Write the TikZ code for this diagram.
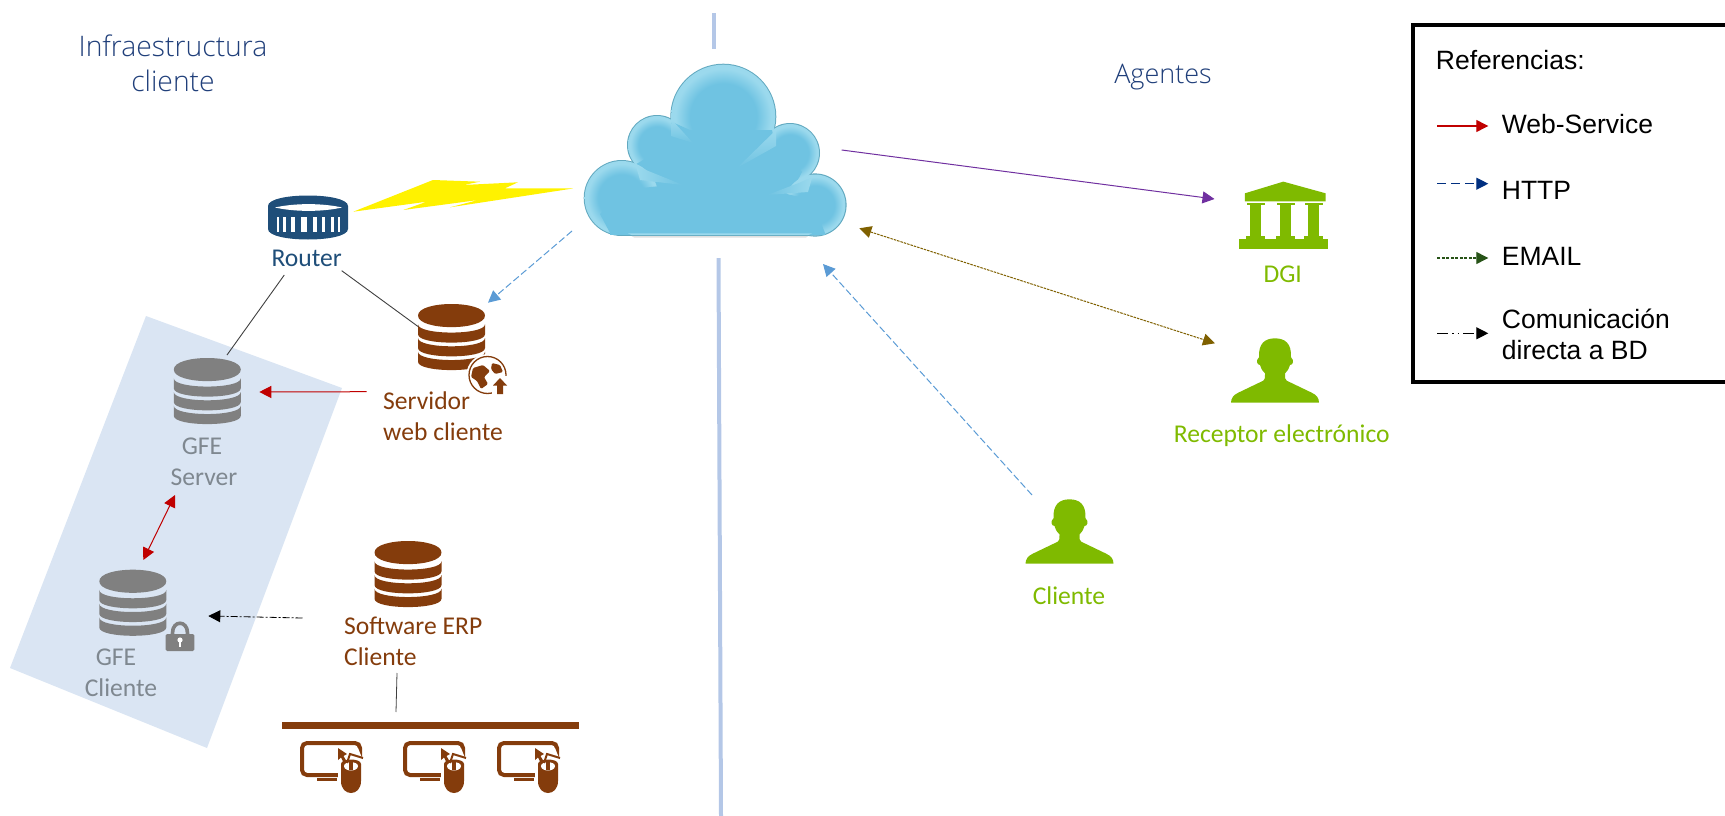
\documentclass[tikz,border=0pt]{standalone}
\usepackage{fontspec}
\setmainfont{Carlito}
\newfontfamily\headfont{Open Sans Light}
\newfontfamily\legfont{Liberation Sans}
\usetikzlibrary{arrows.meta}
\definecolor{brownc}{HTML}{843C0C}
\definecolor{greyc}{HTML}{808080}
\definecolor{greytxt}{HTML}{7F8890}
\definecolor{greenc}{HTML}{7FBA00}
\definecolor{navyc}{HTML}{1F4E79}
\definecolor{headc}{HTML}{203F7A}
\definecolor{paneC}{HTML}{DAE5F3}
\definecolor{vlineC}{HTML}{B4C7E7}
\definecolor{cloudbase}{HTML}{6FC3E2}
\definecolor{cloudhi}{HTML}{9BD9ED}
\definecolor{cloudedge}{HTML}{62A9C0}
\definecolor{httpC}{HTML}{5B9BD5}
\definecolor{wsC}{HTML}{C00000}
\definecolor{purpC}{HTML}{7030A0}
\definecolor{ambC}{HTML}{7F6000}
\definecolor{navylg}{HTML}{002F80}
\definecolor{greenlg}{HTML}{275317}
\pgfdeclareradialshading{lobeshade}{\pgfpoint{0bp}{0bp}}{%
  color(0bp)=(cloudbase); color(16bp)=(cloudbase); color(23bp)=(cloudhi); color(25bp)=(cloudhi); color(50bp)=(cloudhi)}
\tikzset{
  lab/.style={inner sep=0pt,font=\fontsize{25.6}{31}\selectfont,align=center},
  labb/.style={lab,text=brownc,align=left},
  labg/.style={lab,text=greenc},
  labgr/.style={lab,text=greytxt},
  head/.style={inner sep=0pt,text=headc,align=center},
  leg/.style={inner sep=0pt,anchor=west,align=left,font=\legfont\fontsize{26.5}{31}\selectfont},
  tip/.style={-{Triangle[length=12pt,width=12pt]}},
  twotip/.style={{Triangle[length=12pt,width=12pt]}-{Triangle[length=12pt,width=12pt]}},
  wire/.style={draw=black!75,line width=0.9pt},
}
% database icon: centre, half-width, colour
\newcommand\dbicon[3]{%
 \begin{scope}[shift={(#1)},x=#2pt,y=-#2pt]
  \fill[#3] (-1,-.64) .. controls (-1,-1.10) and (1,-1.10) .. (1,-.64) .. controls (1,-.18) and (-1,-.18) .. cycle;
  \foreach \yy in {-.38,.03,.44}{
   \fill[#3] (-1,\yy) .. controls (-1,\yy+.33) and (1,\yy+.33) .. (1,\yy) -- (1,\yy+.30) .. controls (1,\yy+.63) and (-1,\yy+.63) .. (-1,\yy+.30) -- cycle;}
 \end{scope}}
\newcommand\personicon[1]{%
 \begin{scope}[shift={(#1)},x=.3333pt,y=-.3333pt]
  \fill[greenc] (-132,98) .. controls (-132,85) and (-125,75) .. (-110,68) -- (-35,32) .. controls (-30,28) and (-30,25) .. (-30,10)
   .. controls (-40,0) and (-42,-5) .. (-45,-15) .. controls (-55,-15) and (-58,-30) .. (-48,-38)
   .. controls (-50,-80) and (-30,-95) .. (0,-95) .. controls (30,-95) and (50,-80) .. (48,-38)
   .. controls (58,-30) and (55,-15) .. (45,-15) .. controls (42,-5) and (40,0) .. (30,10)
   .. controls (30,25) and (30,28) .. (35,32) -- (110,68) .. controls (125,75) and (132,85) .. (132,98) -- cycle;
 \end{scope}}
\newcommand\wsicon[1]{%
 \begin{scope}[shift={(#1)}]
  \draw[brownc,line width=4pt,rounded corners=5pt] (2,4) rectangle (60,36);
  \fill[brownc] (17,38.5) rectangle (37,42);
  \fill[white] (38,9) -- (58,9) -- (64,24) -- (64,53) -- (38,53) -- cycle;
  \fill[brownc] (41,25) -- (41,42) .. controls (41,58) and (61,58) .. (61,42) -- (61,25) .. controls (61,19) and (41,19) .. (41,25) -- cycle;
  \fill[white] (44,27) .. controls (44,22) and (58,22) .. (58,27) .. controls (58,33) and (44,33) .. (44,27) -- cycle;
  \fill[brownc] (49,22) rectangle (53,31);
  \fill[brownc] (38,9) -- (47,15) -- (43.5,17) -- (47,23) -- (44,24.5) -- (41,18.5) -- (38,21) -- cycle;
  \draw[brownc,line width=2pt] (47,24) -- (50,15) -- (63,19);
 \end{scope}}
\begin{document}
\begin{tikzpicture}[x=1pt,y=-1pt]
\useasboundingbox (0,0) rectangle (1725,816);
% panel
\fill[paneC] (146,316) -- (342,388) -- (207,748) -- (10,668) -- cycle;
% vertical separators
\fill[vlineC] (711.8,13) rectangle (716.3,49);
\fill[vlineC] (716.5,258) -- (720.5,258) -- (723,816) -- (719,816) -- cycle;
% cloud
\begin{scope}
 \fill[black!12] (628,234) -- (812,234) -- (806,237.5) -- (634,237.5) -- cycle;
 \foreach \cx/\cy/\r in {723.3/116.7/52.3,657/145/29.3,790/153/29.3,621.7/198/37.3,815/205/30.9}{
   \fill[cloudedge] (\cx,\cy) circle[radius=\r pt+.7pt];}
 \fill[cloudedge] (621,197) rectangle (815,235.8);
 \fill[cloudedge] (635,160) -- (800,172) -- (800,215) -- (640,215) -- cycle;
 \fill[cloudbase] (638,164) -- (798,174) -- (800,215) -- (640,215) -- cycle;
 \shade[shading=lobeshade] (723.3,116.7) circle[radius=52pt];
 \shade[shading=lobeshade] (657,145) circle[radius=29pt];
 \shade[shading=lobeshade] (790,153) circle[radius=29pt];
 \fill[cloudbase] (672,122) -- (690,130) -- (755,130) -- (772,130) -- (775,145) -- (790,160) -- (802,172) -- (790,195) -- (650,190) -- (633,166) -- (643,160) -- (657,148) -- (670,135) -- cycle;
 \shade[shading=lobeshade] (621.7,198) circle[radius=37pt];
 \shade[shading=lobeshade] (815,205) circle[radius=30.5pt];
 \fill[cloudbase] (624,190) -- (660,186) -- (684,187) -- (770,190) -- (812,200) -- (825,233) -- (610,233) -- (600,214) -- cycle;
 \fill[cloudbase] (610,233) rectangle (825,234.5);
 \fill[cloudhi] (628,233.4) -- (812,233.4) -- (808,235.2) -- (632,235.2) -- cycle;
 % teardrop highlights where the lobes run into the body
 \shade[top color=cloudhi,bottom color=cloudbase] (672,120) -- (693,143) -- (671,136) -- cycle;
 \shade[top color=cloudhi,bottom color=cloudbase] (776,130) -- (737,168) -- (776,146) -- cycle;
 \shade[left color=cloudhi,right color=cloudbase] (636,166) -- (683,185) -- (640,180) -- cycle;
 \shade[right color=cloudhi,left color=cloudbase] (812,178) -- (767,195) -- (808,192) -- cycle;
\end{scope}
% lightning
\fill[yellow] (353.3,211.7) -- (433,180) -- (480,181.7) -- (463.3,185) -- (518,182.3) -- (505,188.3) -- (573,188.5) -- (450,207.3) -- (478.3,200) -- (403.3,210) -- (426.7,201.7) -- cycle;
% router icon
\fill[navyc] (268,206) .. controls (268,192) and (348,192) .. (348,206) -- (348,229) .. controls (348,243) and (268,243) .. (268,229) -- cycle;
\fill[white] (275,207.5) .. controls (295,203) and (322,203) .. (342,207.5) .. controls (322,212) and (295,212) .. (275,207.5) -- cycle;
\foreach \xa/\xb in {277/279,283/286,291/295,301/306.5,313/317,322/325,331/334,338/340}{
  \fill[white] (\xa,217) rectangle (\xb,232);}
% DB icons
\dbicon{451.5,337}{33.5}{brownc}
\dbicon{207.3,391}{33.5}{greyc}
\dbicon{132.8,602.7}{33.5}{greyc}
\dbicon{408,574}{33.5}{brownc}
% globe
\fill[white] (487.5,375) circle[radius=21pt];
\draw[brownc,line width=1.3pt] (487.5,375) circle[radius=18.5pt];
\fill[brownc,rounded corners=1.2pt] (473,368) -- (483,365) -- (490,371) -- (484,377) -- (488,384) -- (481,389) -- (477,381) -- (471,377) -- cycle;
\fill[brownc,rounded corners=1.2pt] (492,363) -- (500,365) -- (503,372) -- (495,374) -- (491,369) -- cycle;
\fill[white] (492,376) rectangle (508,395);
\fill[brownc] (500,378) -- (507,385.5) -- (503,385.5) -- (503,394) -- (497,394) -- (497,385.5) -- (493,385.5) -- cycle;
% lock
\draw[greyc,line width=3.6pt] (172.5,636) -- (172.5,633) .. controls (172.5,620) and (187.5,620) .. (187.5,633) -- (187.5,636);
\fill[greyc,rounded corners=1.5pt] (165.7,634) rectangle (194.3,651);
\fill[white] (180,640) circle[radius=2.6pt];
\fill[white] (178.7,640) rectangle (181.3,647);
% bar and workstations
\fill[brownc] (282,722) rectangle (579,729);
\wsicon{300,739}
\wsicon{403,739}
\wsicon{497,739}
% DGI icon
\begin{scope}[shift={(1283.3,215.3)},x=.3333pt,y=-.3333pt]
 \fill[greenc] (0,-101) -- (127,-66) -- (127,-42) -- (-115,-42) -- (-115,-66) -- cycle;
 \foreach \aa in {-83,7,91}{
  \fill[greenc] (\aa-27,-36) rectangle (\aa+27,-30);
  \fill[greenc] (\aa-16,-30) rectangle (\aa+16,72);
  \fill[greenc] (\aa-28,62) rectangle (\aa+28,72);}
 \fill[greenc] (-133,72) rectangle (135,101);
\end{scope}
% persons
\personicon{1275,370}
\personicon{1069.5,531}
% labels and nodes
\node[head,font=\headfont\fontsize{28.3}{35}\selectfont] (infra) at (173,63) {Infraestructura\\cliente};
\node[head,font=\headfont\fontsize{27}{35}\selectfont] (agentes) at (1163,77) {Agentes};
\node[lab,text=navyc] (router) at (306.7,258) {Router};
\node[labb,anchor=west] (sweb) at (383,416) {Servidor\\web cliente};
\node[labgr] (gfes) at (204,462) {\hspace*{-4pt}GFE\\Server};
\node[labgr] (gfec) at (121,673) {\hspace*{-10pt}GFE\\Cliente};
\node[labb,anchor=west] (erp) at (344,641) {Software ERP\\Cliente};
\node[labg] (dgi) at (1282.7,274) {DGI};
\node[labg] (recep) at (1281.7,436) {Receptor electrónico};
\node[labg] (clien) at (1069,596) {Cliente};
% connector ends
\coordinate (rA) at (284.3,275);
\coordinate (gA) at (227,355);
\coordinate (rB) at (341.7,270.7);
\coordinate (sB) at (418.3,326.7);
\coordinate (cH) at (572,231);
\coordinate (sH) at (488,302.7);
\coordinate (sR) at (366.7,391.7);
\coordinate (gR) at (259.3,392);
\coordinate (g1) at (175,495);
\coordinate (g2) at (143.3,560);
\coordinate (eD) at (302.5,618);
\coordinate (gD) at (208.3,616);
\coordinate (eW) at (397,673);
\coordinate (bW) at (396,712);
\coordinate (cP) at (841.7,150);
\coordinate (dP) at (1214.5,199);
\coordinate (cA) at (859.3,228.3);
\coordinate (pA) at (1215,343.3);
\coordinate (uH) at (1032,495);
\coordinate (cU) at (823,264);
\draw[wire] (rA) -- (gA);
\draw[wire] (rB) -- (sB);
\draw[wire,line width=.8pt] (eW) -- (bW);
\draw[tip,httpC,dash pattern=on 7pt off 3pt,line width=1pt] (cH) -- (sH);
\draw[tip,wsC,line width=1pt] (sR) -- (gR);
\draw[twotip,wsC,line width=1pt] (g1) -- (g2);
\draw[tip,black,dash pattern=on 7pt off 2pt on 2pt off 2pt,line width=.8pt] (eD) -- (gD);
\draw[tip,purpC,line width=1pt] (cP) -- (dP);
\draw[twotip,ambC,dash pattern=on 2.5pt off 1pt,line width=1pt] (cA) -- (pA);
\draw[tip,httpC,dash pattern=on 7pt off 3pt,line width=1pt] (uH) -- (cU);
% legend
\draw[black,line width=4pt,line cap=round] (1725,25) -- (1412.5,25) -- (1412.5,382) -- (1725,382);
\node[leg] (t0) at (1435.7,60) {Referencias:};
\node[leg] (t1) at (1501.7,124) {Web-Service};
\node[leg] (t2) at (1501.7,190) {HTTP};
\node[leg] (t3) at (1501.7,256) {EMAIL};
\node[leg] (t4) at (1501.7,334) {Comunicación\\directa a BD};
\coordinate (l1a) at (1437.3,126); \coordinate (l1b) at (1488.3,126);
\coordinate (l2a) at (1437.3,183.7); \coordinate (l2b) at (1488.3,183.7);
\coordinate (l3a) at (1437.3,258); \coordinate (l3b) at (1488.3,258);
\coordinate (l4a) at (1437.3,333.3); \coordinate (l4b) at (1488.3,333.3);
\draw[tip,wsC,line width=1.2pt] (l1a) -- (l1b);
\draw[tip,navylg,dash pattern=on 9pt off 5pt,line width=1.2pt] (l2a) -- (l2b);
\draw[tip,greenlg,dash pattern=on 3pt off 1.5pt,line width=1.2pt] (l3a) -- (l3b);
\draw[tip,black,dash pattern=on 11pt off 4pt on 1.5pt off 4pt on 1.5pt off 4pt,line width=1.2pt] (l4a) -- (l4b);
\end{tikzpicture}
\end{document}
